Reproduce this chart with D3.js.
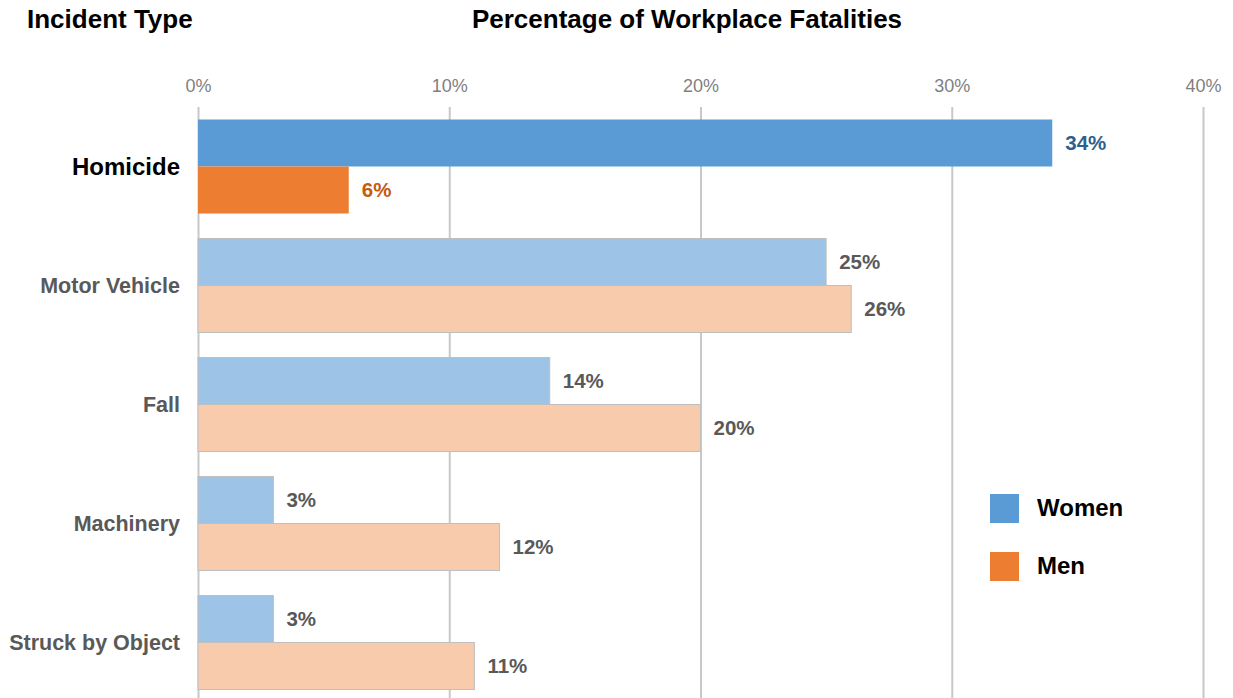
<!DOCTYPE html>
<html>
<head>
<meta charset="utf-8">
<script src="https://cdn.jsdelivr.net/npm/d3@7"></script>
<style>
  body { margin: 0; background: #fff; }
  svg { font-family: "Liberation Sans", Arial, sans-serif; }
</style>
</head>
<body>
<div id="chart"></div>
<script>
// data
const categories = ["Homicide", "Motor Vehicle", "Fall", "Machinery", "Struck by Object"];
const women = [34, 25, 14, 3, 3];
const men = [6, 26, 20, 12, 11];
const series = ["Women", "Men"];
const ticks = [0, 10, 20, 30, 40];

const width = 1233, height = 698;

const svg = d3.select("#chart").append("svg")
  .attr("width", width)
  .attr("height", height);

const x = d3.scaleLinear().domain([0, 40]).range([198, 1203]);
const y = d3.scaleBand().domain(categories).range([107, 702])
  .paddingInner(0.21).paddingOuter(0.105);
const sub = d3.scaleBand().domain(series).range([0, y.bandwidth()]);

// titles
svg.append("text").attr("x", 27).attr("y", 28)
  .attr("font-size", 26).attr("font-weight", "bold").attr("fill", "#000")
  .text("Incident Type");
svg.append("text").attr("x", 687).attr("y", 28).attr("text-anchor", "middle")
  .attr("font-size", 26).attr("font-weight", "bold").attr("fill", "#000")
  .text("Percentage of Workplace Fatalities");

// axis + grid
const axis = svg.append("g").attr("transform", "translate(0,107)")
  .call(d3.axisTop(x).tickValues(ticks).tickFormat(d => d + "%").tickSize(-(height - 107)).tickPadding(15));
axis.select(".domain").remove();
axis.selectAll(".tick line").attr("stroke", "#c8c8c8").attr("stroke-width", 2);
axis.selectAll(".tick text").attr("font-size", 18).attr("fill", "#7f7f7f")
  .attr("font-family", "Liberation Sans, Arial, sans-serif");

const rows = categories.map((c, i) => ({ cat: c, i, vals: [women[i], men[i]] }));

const g = svg.append("g");
rows.forEach(r => {
  const first = r.i === 0;
  const fills = first ? ["#5b9bd5", "#ed7d31"] : ["#9dc3e6", "#f8cbad"];
  series.forEach((s, k) => {
    const v = r.vals[k];
    const y0 = y(r.cat) + sub(s);
    g.append("rect")
      .attr("x", x(0)).attr("y", y0)
      .attr("width", x(v) - x(0)).attr("height", sub.bandwidth())
      .attr("fill", fills[k])
      .attr("stroke", first ? "none" : "#bfbfbf").attr("stroke-width", 1);
    g.append("text")
      .attr("x", x(v) + 13).attr("y", y0 + sub.bandwidth() / 2)
      .attr("dy", "0.35em")
      .attr("font-size", 20.5).attr("font-weight", "bold")
      .attr("fill", first ? (k === 0 ? "#2f5f8f" : "#c55a11") : "#595959")
      .text(v + "%");
  });
  svg.append("text")
    .attr("x", 180).attr("y", y(r.cat) + y.bandwidth() / 2)
    .attr("dy", "0.35em").attr("text-anchor", "end")
    .attr("font-size", first ? 24 : 21.5).attr("font-weight", "bold")
    .attr("fill", first ? "#000" : "#595959")
    .text(r.cat);
});

// legend
const legColors = ["#5b9bd5", "#ed7d31"];
const leg = svg.append("g");
series.forEach((s, k) => {
  leg.append("rect").attr("x", 990).attr("y", 494 + k * 58)
    .attr("width", 29).attr("height", 29).attr("fill", legColors[k]);
  leg.append("text").attr("x", 1037).attr("y", 508 + k * 58).attr("dy", "0.35em")
    .attr("font-size", 24).attr("font-weight", "bold").attr("fill", "#000")
    .text(s);
});
</script>
</body>
</html>
